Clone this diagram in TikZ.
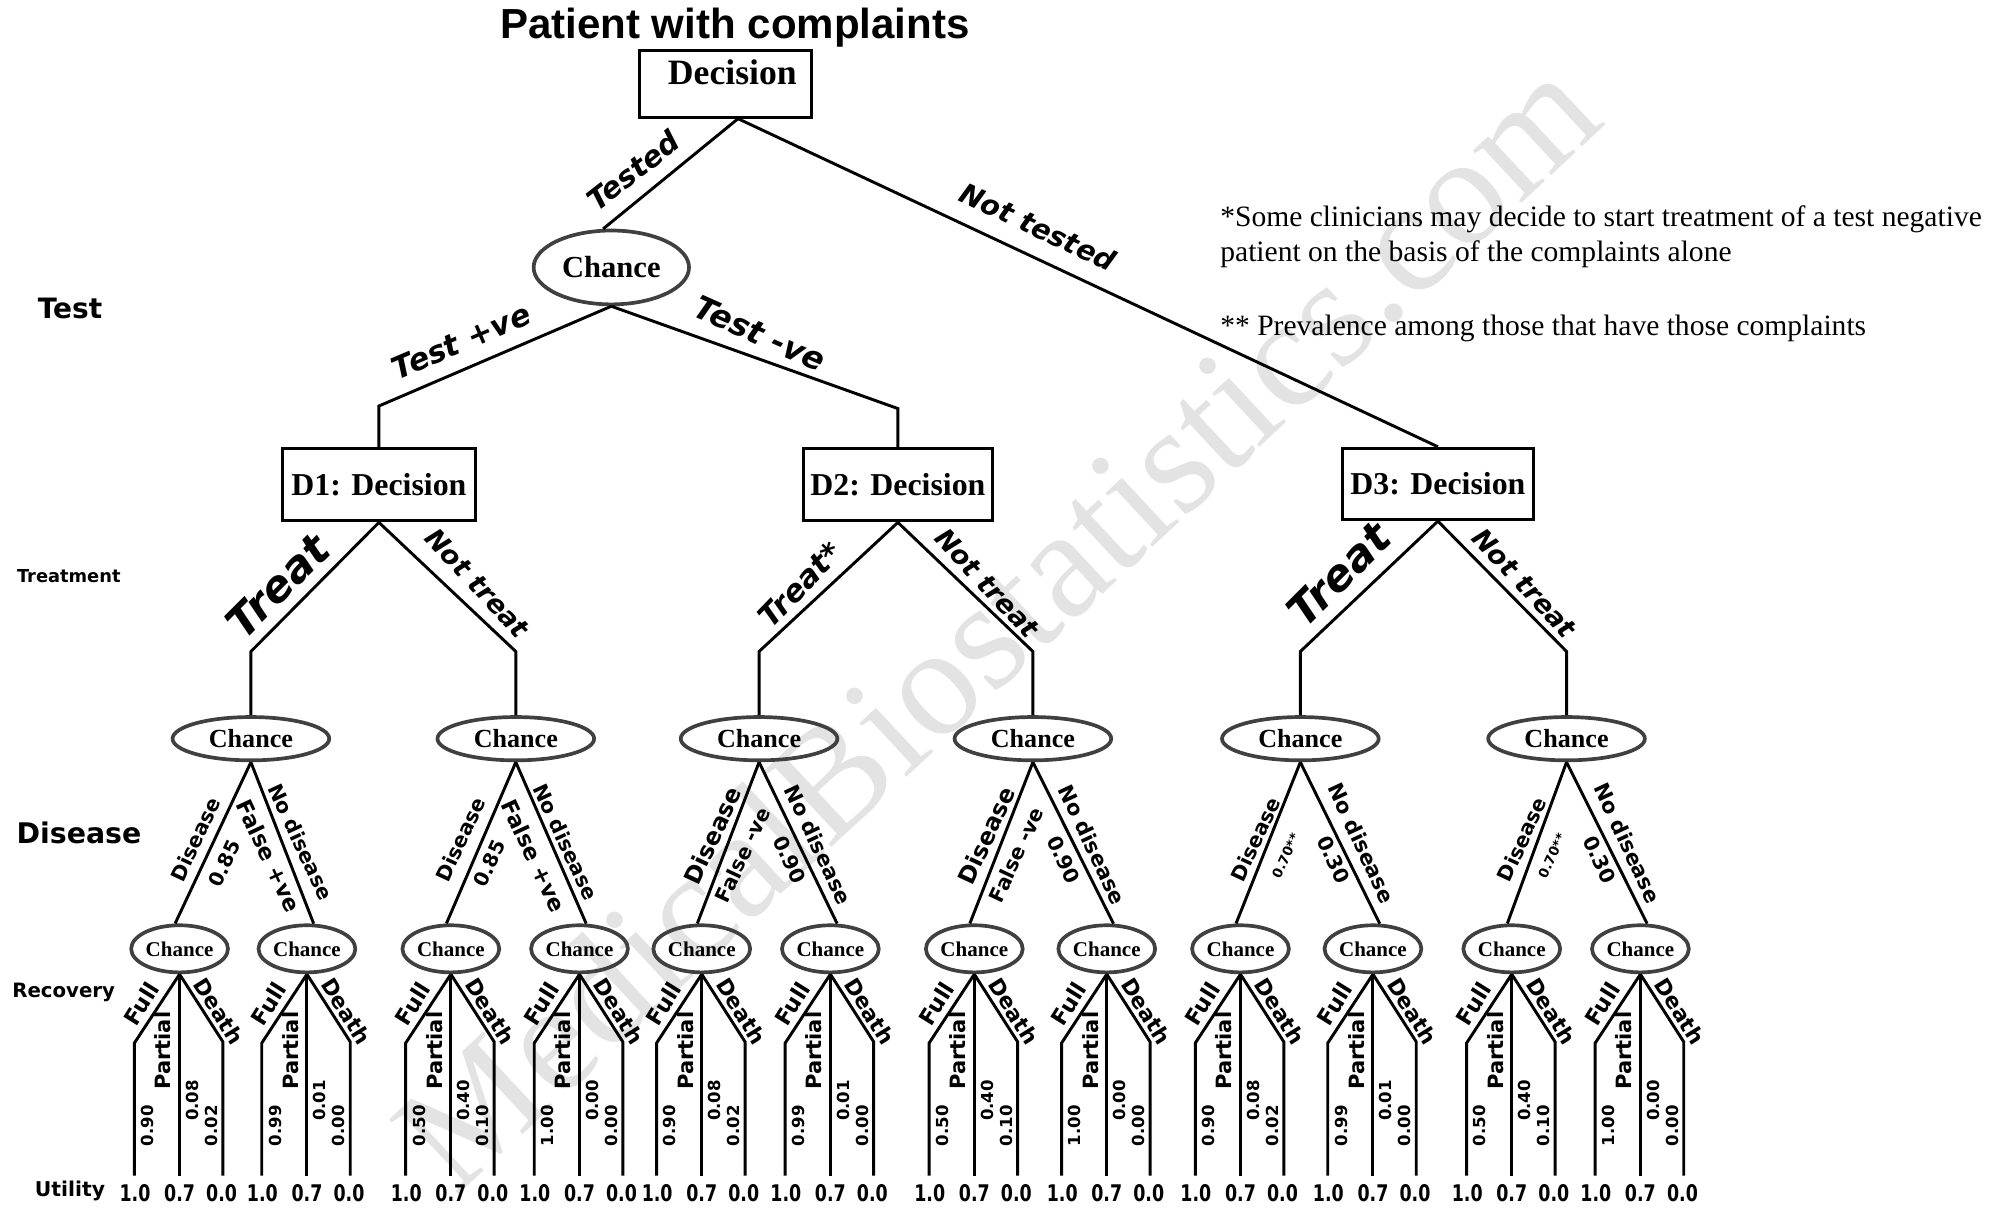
\documentclass[tikz,border=0pt]{standalone}
\usepackage{fontspec}
\setmainfont{Liberation Serif}
\newfontfamily\dvs{DejaVu Sans}
\newfontfamily\dvc[FakeStretch=0.76]{DejaVu Sans}
\newfontfamily\lsans{Liberation Sans}
\usetikzlibrary{shapes.geometric,calc}
\newcommand\fsz[1]{\fontsize{#1}{#1}\selectfont}
\begin{document}
\begin{tikzpicture}[x=1pt,y=-1pt,
  ln/.style={line width=2.3pt},
  chance/.style={ellipse, draw=black!75, line width=2.9pt, inner sep=0pt},
  bigch/.style={chance, minimum width=122pt, minimum height=58pt, font=\bfseries\fsz{24}},
  midch/.style={chance, minimum width=123pt, minimum height=34pt, font=\bfseries\fsz{20.5}},
  smch/.style={chance, minimum width=76pt, minimum height=37pt, font=\bfseries\fsz{16.5}},
  dbox/.style={draw, line width=2.4pt, inner sep=0pt, minimum height=57pt, font=\bfseries\fsz{25}},
  ital/.style={font=\dvs\bfseries\itshape\fsz{#1}, inner sep=0pt},
  bl/.style={font=\dvs\bfseries\fsz{#1}, inner sep=0pt},
  ul/.style={font=\dvc\bfseries\fsz{18}, inner sep=0pt},
  note/.style={font=\fsz{23.2}, inner sep=0pt, anchor=base west},
]
\useasboundingbox (0,0) rectangle (1568,949);
% watermark
\node[font=\fsz{122}, text=black!11, rotate=43, inner sep=0pt] (wm) at (782,488) {MedicalBiostatistics.com};

% title and top decision
\node[font=\lsans\bfseries\fsz{33}, inner sep=0pt] (title) at (577,22) {Patient with complaints};
\node[dbox, minimum width=135pt, minimum height=52pt] (dec) at (569.5,66) {};
\node[font=\bfseries\fsz{28}, inner sep=0pt] (dect) at (575,57) {Decision};
\node[bigch] (tc) at (480,210) {Chance};

% level labels
\node[bl=22] (lt) at (55,242) {Test};
\node[bl=14] (ltr) at (54,452) {Treatment};
\node[bl=22.3] (ldi) at (62,654) {Disease};
\node[bl=15.5] (lre) at (50,779) {Recovery};
\node[bl=16] (lut) at (55,935) {Utility};

% notes
\node[note] (n1) at (958,177.5) {*Some clinicians may decide to start treatment of a test negative};
\node[note] (n2) at (958,205.5) {patient on the basis of the complaints alone};
\node[note] (n3) at (958,263.5) {** Prevalence among those that have those complaints};

% decisions
\node[dbox, minimum width=151pt] (d1) at (297.5,380.5) {D1: Decision};
\node[dbox, minimum width=148pt] (d2) at (705,380.5) {D2: Decision};
\node[dbox, minimum width=150pt, minimum height=56pt] (d3) at (1129,380) {D3: Decision};

\draw[ln] ([xshift=10pt]dec.south) -- (tc.102);
\draw[ln] ([xshift=10pt]dec.south) -- (d3.north);
\draw[ln] (tc.south) -- ([yshift=32pt]d1.north) -- (d1.north);
\draw[ln] (tc.south) -- ([yshift=30pt]d2.north) -- (d2.north);

\node[ital=23, rotate=38] (lb1) at (497,134) {Tested};
\node[ital=22, rotate=-25] (lb2) at (815,178) {Not tested};
\node[ital=24, rotate=23] (lb3) at (362,268) {Test +ve};
\node[ital=25, rotate=-24] (lb4) at (597,262) {Test -ve};

% treatment level chance nodes
\node[midch] (c1) at (197,580) {Chance};
\node[midch] (c2) at (405,580) {Chance};
\node[midch] (c3) at (596,580) {Chance};
\node[midch] (c4) at (811,580) {Chance};
\node[midch] (c5) at (1021,580) {Chance};
\node[midch] (c6) at (1230,580) {Chance};

\draw[ln] (d1.south) -- ([yshift=50pt]c1.north) -- (c1.north);
\draw[ln] (d1.south) -- ([yshift=50pt]c2.north) -- (c2.north);
\draw[ln] (d2.south) -- ([yshift=50pt]c3.north) -- (c3.north);
\draw[ln] (d2.south) -- ([yshift=50pt]c4.north) -- (c4.north);
\draw[ln] (d3.south) -- ([yshift=50pt]c5.north) -- (c5.north);
\draw[ln] (d3.south) -- ([yshift=50pt]c6.north) -- (c6.north);

\node[ital=34, rotate=45] (t1) at (218,460) {Treat};
\node[ital=21, rotate=-47] (t2) at (375,458) {Not treat};
\node[ital=24, rotate=46] (t3) at (628,459) {Treat*};
\node[ital=21, rotate=-47] (t4) at (775,458) {Not treat};
\node[ital=34, rotate=45] (t5) at (1051,451) {Treat};
\node[ital=21, rotate=-47] (t6) at (1197,458) {Not treat};

% recovery level chance nodes with branches
\foreach \n/\x/\pa/\pb/\pc in {1/141/0.90/0.08/0.02, 2/241/0.99/0.01/0.00, 3/354/0.50/0.40/0.10, 4/455/1.00/0.00/0.00,
  5/551/0.90/0.08/0.02, 6/652/0.99/0.01/0.00, 7/765/0.50/0.40/0.10, 8/869/1.00/0.00/0.00,
  9/974/0.90/0.08/0.02, 10/1078/0.99/0.01/0.00, 11/1187/0.50/0.40/0.10, 12/1288/1.00/0.00/0.00}{
  \node[smch] (s\n) at (\x,745) {Chance};
  \coordinate (fa\n) at (\x-35.5,923);
  \coordinate (pa\n) at (\x,923);
  \coordinate (da\n) at (\x+34,923);
  \draw[ln] (s\n.south) -- (\x-35.5,819) -- (fa\n);
  \draw[ln] (s\n.south) -- (pa\n);
  \draw[ln] (s\n.south) -- (\x+34,818) -- (da\n);
  \node[bl=17.5, rotate=58] (fl\n) at (\x-30,788) {Full};
  \node[bl=16.5, rotate=90] (pl\n) at (\x-13,825) {Partial};
  \node[bl=17, rotate=-58] (dl\n) at (\x+31,794) {Death};
  \node[bl=13, rotate=90] (qa\n) at (\x-25,884) {\pa};
  \node[bl=13, rotate=90] (qb\n) at (\x+10,864) {\pb};
  \node[bl=13, rotate=90] (qc\n) at (\x+25,884) {\pc};
  \node[ul] (ua\n) at (\x-35,937) {1.0};
  \node[ul] (ub\n) at (\x,937) {0.7};
  \node[ul] (uc\n) at (\x+33,937) {0.0};
}

% disease level branches
\draw[ln] (c1.south) -- (s1.100);  \draw[ln] (c1.south) -- (s2.75);
\draw[ln] (c2.south) -- (s3.100);  \draw[ln] (c2.south) -- (s4.75);
\draw[ln] (c3.south) -- (s5.100);  \draw[ln] (c3.south) -- (s6.75);
\draw[ln] (c4.south) -- (s7.100);  \draw[ln] (c4.south) -- (s8.75);
\draw[ln] (c5.south) -- (s9.100);  \draw[ln] (c5.south) -- (s10.75);
\draw[ln] (c6.south) -- (s11.100); \draw[ln] (c6.south) -- (s12.75);

% type A labels (after test positive)
\foreach \k/\cx in {1/197, 2/405}{
  \node[bl=16, rotate=65] (ea\k) at (\cx-43.5,659) {Disease};
  \node[bl=15.5, rotate=65] (eb\k) at (\cx-21,678) {0.85};
  \node[bl=17.5, rotate=-65] (ec\k) at (\cx+14,672) {False +ve};
  \node[bl=16, rotate=-65] (ed\k) at (\cx+39,661) {No disease};
}
% type B labels (after test negative)
\foreach \k/\cx in {3/596, 4/811}{
  \node[bl=18.5, rotate=65] (ea\k) at (\cx-36.5,656) {Disease};
  \node[bl=16, rotate=65] (eb\k) at (\cx-13,671) {False -ve};
  \node[bl=16, rotate=-65] (ec\k) at (\cx+24,675) {0.90};
  \node[bl=16.5, rotate=-65] (ed\k) at (\cx+46.5,663) {No disease};
}
% type C labels (not tested)
\foreach \k/\cx in {5/1021, 6/1230}{
  \node[bl=16, rotate=65] (ea\k) at (\cx-35,659) {Disease};
  \node[bl=10.5, rotate=65] (eb\k) at (\cx-11.5,672) {0.70**};
  \node[bl=16, rotate=-65] (ec\k) at (\cx+26,675) {0.30};
  \node[bl=16.5, rotate=-65] (ed\k) at (\cx+48,662) {No disease};
}
\end{tikzpicture}
\end{document}
